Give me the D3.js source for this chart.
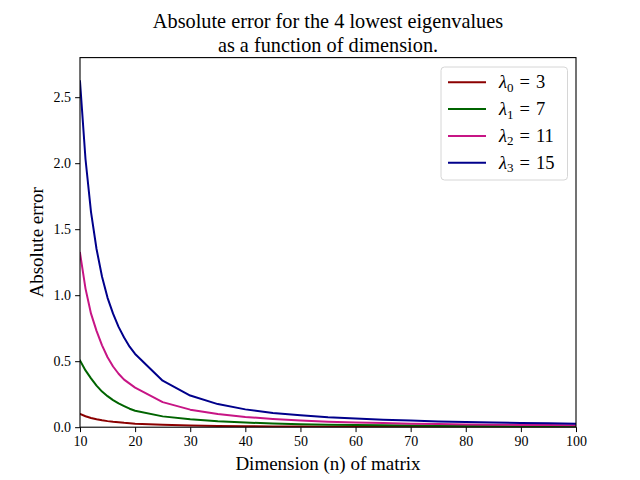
<!DOCTYPE html>
<html>
<head>
<meta charset="utf-8">
<script src="https://cdn.jsdelivr.net/npm/d3@7/dist/d3.min.js"></script>
<style>
  html, body { margin: 0; padding: 0; background: #fff; }
  svg { display: block; }
  text { font-family: "Liberation Serif", "DejaVu Serif", serif; fill: #000; }
</style>
</head>
<body>
<div id="chart"></div>
<script>
// matrix dimension n and absolute error of each eigenvalue
var dims = [10, 11, 12, 13, 14, 15, 16, 17, 18, 19, 20, 25, 30, 35, 40, 45, 50, 55, 60, 65, 70, 75, 80, 85, 90, 95, 100];
var err0 = [0.100, 0.083, 0.070, 0.060, 0.052, 0.046, 0.041, 0.037, 0.033, 0.030, 0.027, 0.018, 0.013, 0.0095, 0.0075, 0.0060, 0.0049, 0.0041, 0.0035, 0.0030, 0.0026, 0.0023, 0.0020, 0.0018, 0.0016, 0.0015, 0.0013];
var err1 = [0.505, 0.430, 0.370, 0.315, 0.270, 0.235, 0.205, 0.180, 0.160, 0.140, 0.125, 0.082, 0.060, 0.045, 0.035, 0.028, 0.023, 0.019, 0.016, 0.014, 0.012, 0.011, 0.0095, 0.0085, 0.0076, 0.0068, 0.0062];
var err2 = [1.32, 1.05, 0.86, 0.73, 0.62, 0.53, 0.46, 0.405, 0.36, 0.33, 0.30, 0.19, 0.133, 0.100, 0.078, 0.062, 0.050, 0.042, 0.036, 0.031, 0.027, 0.024, 0.021, 0.019, 0.017, 0.016, 0.014];
var err3 = [2.62, 2.03, 1.63, 1.35, 1.14, 0.98, 0.86, 0.76, 0.68, 0.61, 0.555, 0.352, 0.240, 0.175, 0.135, 0.108, 0.090, 0.075, 0.065, 0.056, 0.050, 0.044, 0.039, 0.035, 0.032, 0.029, 0.027];
var eigIndex = ['0', '1', '2', '3'];
var eigValue = [3, 7, 11, 15];
var colors = ['#8b0000', '#006400', '#c71585', '#00008b'];
var xTicks = [10, 20, 30, 40, 50, 60, 70, 80, 90, 100];
var yTicks = [0, 0.5, 1.0, 1.5, 2.0, 2.5];
var titleLines = ['Absolute error for the 4 lowest eigenvalues', 'as a function of dimension.'];

(function () {
  'use strict';
  var W = 640, H = 480;
  var m = { left: 80, right: 576, top: 57.6, bottom: 427.2 };

  var svg = d3.select('#chart').append('svg')
    .attr('width', W).attr('height', H)
    .attr('viewBox', '0 0 ' + W + ' ' + H);

  var x = d3.scaleLinear().domain([10, 100]).range([m.left, m.right]);
  var y = d3.scaleLinear().domain([0, 2.8]).range([m.bottom, m.top]);

  svg.append('defs').append('clipPath').attr('id', 'plot-clip')
    .append('rect').attr('x', m.left).attr('y', m.top)
    .attr('width', m.right - m.left).attr('height', m.bottom - m.top);

  var series = [err0, err1, err2, err3];
  var line = d3.line()
    .x(function (d, i) { return x(dims[i]); })
    .y(function (d) { return y(d); });

  svg.append('g').attr('clip-path', 'url(#plot-clip)')
    .selectAll('path').data(series).join('path')
    .attr('d', line)
    .attr('fill', 'none')
    .attr('stroke', function (d, i) { return colors[i]; })
    .attr('stroke-width', 2)
    .attr('stroke-linejoin', 'round')
    .attr('stroke-linecap', 'square');

  // axes
  var xAxis = d3.axisBottom(x).tickValues(xTicks).tickSize(4.9).tickPadding(4).tickFormat(d3.format('d'));
  var yAxis = d3.axisLeft(y).tickValues(yTicks).tickSize(4.9).tickPadding(4).tickFormat(d3.format('.1f'));

  var gx = svg.append('g').attr('transform', 'translate(0,' + m.bottom + ')').call(xAxis);
  var gy = svg.append('g').attr('transform', 'translate(' + m.left + ',0)').call(yAxis);
  [gx, gy].forEach(function (g) {
    g.select('.domain').remove();
    g.selectAll('.tick line').attr('stroke', '#000').attr('stroke-width', 1);
    g.selectAll('.tick text').attr('font-size', 14).attr('font-family', '"Liberation Serif", serif').attr('fill', '#000');
  });

  // frame
  svg.append('rect')
    .attr('x', m.left).attr('y', m.top)
    .attr('width', m.right - m.left).attr('height', m.bottom - m.top)
    .attr('fill', 'none').attr('stroke', '#000').attr('stroke-width', 1.1);

  // title + axis labels
  var cx = (m.left + m.right) / 2;
  svg.append('g').selectAll('text').data(titleLines).join('text')
    .attr('x', cx)
    .attr('y', function (d, i) { return 28 + i * 23.5; })
    .attr('text-anchor', 'middle')
    .attr('font-size', 20.3)
    .text(function (d) { return d; });

  svg.append('text')
    .attr('x', cx).attr('y', 470)
    .attr('text-anchor', 'middle').attr('font-size', 19)
    .text('Dimension (n) of matrix');

  svg.append('text')
    .attr('transform', 'translate(43,' + ((m.top + m.bottom) / 2) + ') rotate(-90)')
    .attr('text-anchor', 'middle').attr('font-size', 19)
    .text('Absolute error');

  // legend
  var lg = svg.append('g');
  lg.append('rect')
    .attr('x', 441).attr('y', 67).attr('width', 126.5).attr('height', 113)
    .attr('rx', 3.5)
    .attr('fill', '#fff').attr('fill-opacity', 0.8)
    .attr('stroke', '#d6d6d6').attr('stroke-width', 1);

  var rows = lg.selectAll('g.row').data(eigIndex).join('g')
    .attr('class', 'row')
    .attr('transform', function (d, i) { return 'translate(0,' + (82.3 + i * 26.8) + ')'; });
  rows.append('line')
    .attr('x1', 448).attr('x2', 486).attr('y1', 0).attr('y2', 0)
    .attr('stroke', function (d, i) { return colors[i]; })
    .attr('stroke-width', 2);
  var t = rows.append('text')
    .attr('x', 499).attr('y', 6).attr('font-size', 18.5);
  t.append('tspan').attr('font-style', 'italic').text('λ');
  t.append('tspan').attr('font-size', 13).attr('dy', 3.5).text(function (d) { return d; });
  t.append('tspan').attr('dy', -3.5).attr('dx', 6).text('=');
  t.append('tspan').attr('dx', 6).text(function (d, i) { return eigValue[i]; });
})();
</script>
</body>
</html>
